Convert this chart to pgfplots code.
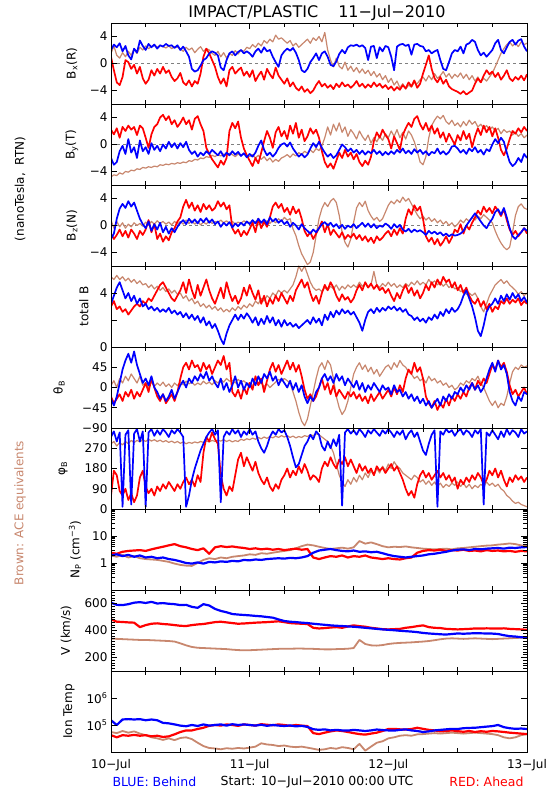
\documentclass[border=0pt]{standalone}
\usepackage{fontspec}
\setmainfont{DejaVu Sans}
\usepackage{pgfplots}
\usepackage{pgfplotstable}
\pgfplotsset{compat=1.18}
\definecolor{cb}{RGB}{0,0,255}
\definecolor{cr}{RGB}{255,0,0}
\definecolor{cn}{RGB}{200,135,110}
\newcommand{\fs}{\fontsize{12}{14}\selectfont}

\pgfplotstableread{
h b r a
0 2.0 1.0 1.5
0.5 2.8 -1.0 2.6
1 2.4 -2.8 1.2
1.5 3.0 -3.2 0.8
2 1.8 -2.0 1.6
2.5 2.6 0.5 1.0
3 1.2 0.2 1.8
3.5 0.6 -0.8 1.2
4 2.2 -0.2 2.2
4.5 1.6 -1.5 1.5
5 3.4 -0.5 2.4
5.5 2.6 -2.2 2.0
6 2.0 -3.0 2.6
6.5 2.9 -2.4 2.2
7 2.4 -1.0 2.5
7.5 2.8 -1.8 2.8
8 2.2 -0.8 2.4
8.5 2.7 -1.5 2.7
9 2.5 -0.5 2.5
9.5 2.9 -1.4 2.3
10 2.6 -1.0 2.6
10.5 2.7 -2.0 2.2
11 2.3 -2.6 2.5
11.5 2.7 -2.2 2.4
12 2.0 -1.4 2.2
12.5 2.5 -2.8 1.8
13 1.8 -3.2 2.4
13.5 1.0 -2.5 2.0
14 -0.8 -3.4 2.3
14.5 -1.2 -2.6 1.6
15 -1.0 -3.0 2.1
15.5 -0.3 -1.5 2.5
16 0.5 1.0 1.8
16.5 0.8 2.2 2.2
17 1.5 1.5 2.0
17.5 1.8 0.5 1.5
18 1.6 -0.5 1.2
18.5 1.2 -2.0 1.8
19 -0.6 -3.0 1.0
19.5 -1.0 -2.2 1.6
20 0.5 -3.4 0.8
20.5 1.5 -1.0 1.5
21 1.8 -0.5 1.2
21.5 1.2 -1.5 1.9
22 1.7 -1.0 1.4
22.5 2.0 -0.6 2.0
23 1.5 -1.8 1.8
23.5 1.8 -1.2 2.4
24 1.5 -2.0 2.2
24.5 1.0 -1.0 2.8
25 1.8 -2.6 2.4
25.5 2.2 -1.8 3.0
26 1.6 -1.2 2.6
26.5 2.4 -2.4 3.4
27 1.8 -0.8 3.0
27.5 2.0 -1.6 3.6
28 1.0 -2.2 3.2
28.5 0.2 -0.6 4.2
29 -0.5 -1.8 3.6
29.5 1.2 -2.4 3.8
30 1.8 -3.0 3.4
30.5 2.2 -2.2 3.0
31 1.9 -3.4 3.4
31.5 2.3 -2.8 2.6
32 1.6 -3.6 3.0
32.5 0.5 -4.0 2.4
33 -1.0 -3.4 2.8
33.5 -1.3 -4.2 3.2
34 -0.8 -3.8 3.6
34.5 0.2 -4.4 3.0
35 0.8 -4.0 3.8
35.5 1.5 -3.2 3.4
36 0.5 -2.6 4.0
36.5 1.5 -3.4 3.2
37 1.8 -3.0 4.6
37.5 1.0 -3.6 2.0
38 -0.2 -3.2 0.5
38.5 -0.4 -3.8 -0.5
39 0.3 -3.0 0.8
39.5 1.4 -3.5 -0.4
40 2.0 -2.8 -0.8
40.5 1.5 -3.4 0.2
41 2.4 -3.1 -1.0
41.5 2.7 -3.6 -0.4
42 2.6 -3.2 -1.2
42.5 2.8 -2.6 -0.6
43 2.5 -3.4 -1.4
43.5 2.7 -3.0 -0.8
44 2.3 -3.6 -1.5
44.5 0.5 -3.1 -1.0
45 2.5 -3.5 -1.8
45.5 2.6 -2.8 -1.2
46 0.8 -3.4 -2.0
46.5 2.4 -3.0 -1.5
47 1.8 -3.6 -2.4
47.5 2.6 -3.2 -1.8
48 2.4 -3.8 -2.8
48.5 1.0 -3.4 -2.2
49 -1.0 -4.0 -3.2
49.5 2.5 -3.5 -2.6
50 2.8 -3.9 -3.6
50.5 2.9 -3.2 -3.0
51 2.6 -3.7 -3.8
51.5 2.8 -2.8 -3.2
52 1.3 -3.4 -3.5
52.5 2.8 -2.5 -2.8
53 2.9 -3.6 -3.0
53.5 2.6 -3.0 -2.4
54 2.5 -1.5 -2.0
54.5 1.8 -0.2 -2.6
55 2.0 1.2 -1.8
55.5 1.5 -0.8 -2.4
56 1.8 -2.2 -1.5
56.5 2.0 -2.8 -2.2
57 0.5 -2.0 -1.8
57.5 -0.8 -3.0 -1.2
58 -1.0 -2.4 -2.0
58.5 0.2 -3.4 -1.5
59 1.5 -3.8 -2.2
59.5 2.0 -4.0 -1.6
60 1.8 -4.2 -2.0
60.5 2.5 -4.5 -1.4
61 1.5 -4.1 -2.2
61.5 2.8 -4.6 -1.6
62 3.0 -4.3 -2.4
62.5 3.5 -4.0 -1.8
63 3.2 -3.0 -2.6
63.5 2.0 -2.2 -2.0
64 1.2 -2.8 -2.8
64.5 1.6 -1.8 -2.2
65 1.0 -1.0 -2.6
65.5 1.5 -1.6 -2.0
66 2.0 -1.2 -1.4
66.5 3.0 -2.0 -0.5
67 3.5 -1.4 0.5
67.5 2.0 -2.4 1.5
68 1.5 -1.8 2.2
68.5 2.4 -1.0 2.8
69 3.2 -2.2 3.2
69.5 3.5 -2.6 2.6
70 2.8 -2.0 3.0
70.5 3.4 -2.4 2.5
71 3.6 -1.8 3.2
71.5 2.5 -2.5 2.8
72 1.8 -1.6 3.0
}\tBx

\pgfplotstableread{
h b r a
0 -2.0 2.2 -4.8
0.5 -3.0 1.5 -4.5
1 -2.6 2.4 -4.6
1.5 -1.0 1.0 -4.2
2 -0.2 2.6 -4.4
2.5 -1.4 2.0 -4.0
3 0.8 2.8 -4.1
3.5 -1.2 2.2 -3.8
4 -0.4 2.6 -3.9
4.5 -2.0 1.4 -3.6
5 0.6 2.8 -3.7
5.5 -1.0 2.4 -3.4
6 -0.4 1.0 -3.5
6.5 -1.4 -0.5 -3.3
7 0.2 1.5 -3.4
7.5 -0.8 2.6 -3.2
8 -0.2 3.0 -3.3
8.5 -1.0 4.0 -3.0
9 0.0 4.4 -3.1
9.5 -0.6 3.6 -2.9
10 0.4 4.2 -3.0
10.5 -0.4 3.0 -2.8
11 0.2 3.6 -2.9
11.5 -0.6 2.6 -2.7
12 0.2 3.2 -2.8
12.5 -0.4 4.0 -2.6
13 0.4 3.0 -2.7
13.5 -0.8 3.6 -2.4
14 -1.4 2.2 -2.5
14.5 -1.0 3.8 -2.2
15 -1.8 4.2 -2.3
15.5 -1.2 3.0 -2.0
16 -1.6 2.0 -2.1
16.5 -1.0 -0.5 -1.8
17 -1.4 -1.4 -1.9
17.5 -0.8 -2.2 -1.6
18 -1.2 -2.8 -1.8
18.5 -1.6 -3.4 -1.5
19 -1.0 -2.4 -1.7
19.5 -1.8 -3.0 -1.4
20 -1.2 -2.0 -1.6
20.5 -1.6 2.0 -1.3
21 -1.0 3.2 -1.5
21.5 -1.5 2.4 -1.8
22 -1.1 3.4 -1.4
22.5 -1.7 1.0 -1.7
23 -1.3 -0.6 -1.3
23.5 -1.9 -1.6 -1.6
24 -1.4 -2.4 -1.8
24.5 -1.8 -3.2 -1.5
25 -1.2 -2.0 -2.0
25.5 -0.2 -2.8 -1.6
26 0.6 -1.2 -2.2
26.5 -0.8 0.5 -1.8
27 -1.6 2.0 -2.4
27.5 -1.2 1.0 -2.0
28 -1.8 -0.5 -2.6
28.5 -1.3 1.8 -2.2
29 -0.5 2.6 -2.5
29.5 0.0 1.2 -2.0
30 0.2 2.0 -1.8
30.5 -0.3 0.8 -1.5
31 0.3 2.8 -1.9
31.5 -0.6 1.6 -1.4
32 -1.2 3.2 -1.7
32.5 -1.8 1.0 -1.2
33 -1.4 2.2 -1.5
33.5 -1.9 0.5 -1.0
34 -1.5 1.2 -1.3
34.5 -0.6 2.4 -0.8
35 0.2 1.6 -1.2
35.5 -0.4 2.2 -0.6
36 0.4 1.0 -0.9
36.5 -0.5 -1.0 -0.2
37 -1.2 -2.6 1.0
37.5 -1.8 -3.4 2.6
38 -1.4 -2.8 1.4
38.5 -2.0 -3.6 3.0
39 -1.6 -2.4 2.0
39.5 -0.8 -1.2 3.2
40 0.0 -2.0 1.8
40.5 -0.4 -0.8 2.6
41 -1.0 -1.8 1.2
41.5 -0.6 -1.2 2.2
42 -1.2 -2.2 1.6
42.5 -0.8 -1.4 0.8
43 -1.4 -2.6 2.0
43.5 -0.9 -3.2 1.2
44 -1.5 -2.4 0.6
44.5 -1.0 -3.0 1.4
45 -1.3 -1.8 0.2
45.5 -0.8 0.5 1.0
46 -1.4 1.8 0.4
46.5 -1.0 1.0 1.2
47 -1.6 2.2 0.6
47.5 -1.1 1.4 1.6
48 -1.5 0.8 1.0
48.5 -1.0 -0.6 2.0
49 -1.4 1.2 1.2
49.5 -0.8 0.2 2.2
50 -1.2 -0.8 1.0
50.5 -0.6 1.4 1.8
51 -1.3 2.4 0.8
51.5 -0.9 3.2 2.0
52 -1.4 2.6 1.4
52.5 -0.7 3.8 0.4
53 -1.2 4.2 -1.0
53.5 -0.8 3.0 -2.6
54 -1.4 2.2 -3.0
54.5 -1.0 3.2 -1.8
55 -1.6 2.0 1.0
55.5 -1.1 2.8 2.8
56 -1.3 1.6 3.6
56.5 -0.6 2.4 4.2
57 -1.4 1.0 3.8
57.5 -1.0 1.8 4.3
58 -1.5 0.4 3.4
58.5 -1.1 1.6 3.0
59 -0.3 0.8 3.6
59.5 -0.2 0.0 2.8
60 -0.6 1.4 3.2
60.5 -1.2 0.6 2.6
61 -0.8 2.0 3.4
61.5 -1.4 0.8 2.8
62 -0.6 1.6 3.6
62.5 -1.0 -0.4 3.0
63 -0.4 1.2 3.4
63.5 -1.2 2.4 2.6
64 -0.8 1.4 3.0
64.5 -1.5 2.8 2.4
65 -0.7 1.8 2.8
65.5 -1.0 2.6 2.2
66 0.0 1.2 2.6
66.5 0.8 2.4 2.0
67 0.2 1.0 2.4
67.5 1.0 -0.8 1.6
68 0.4 -1.6 2.2
68.5 -1.2 -0.6 1.8
69 -2.6 0.8 2.0
69.5 -3.2 2.0 1.4
70 -2.8 1.6 1.8
70.5 -2.0 2.4 1.2
71 -2.6 1.8 1.6
71.5 -1.4 2.6 1.0
72 -2.0 2.0 1.4
}\tBy

\pgfplotstableread{
h b r a
0 -2.0 -1.2 0.8
0.5 -1.2 -2.0 -0.4
1 1.0 -1.4 0.6
1.5 2.5 -0.6 -0.2
2 3.2 -1.6 0.4
2.5 2.6 -0.8 -0.4
3 3.6 -1.8 0.2
3.5 2.8 -0.6 -0.2
4 3.4 -1.2 0.4
4.5 2.2 -2.0 0.0
5 1.0 -0.8 0.3
5.5 0.2 -1.4 -0.1
6 -0.4 -0.6 0.5
6.5 0.6 0.8 0.1
7 -0.8 -1.0 0.6
7.5 0.2 0.2 0.2
8 -0.6 -2.0 0.7
8.5 0.4 -1.2 0.3
9 -1.0 -2.4 0.6
9.5 -0.2 -1.6 0.2
10 -1.2 -2.2 0.5
10.5 -0.4 -1.0 0.1
11 -1.0 -0.4 0.6
11.5 -0.2 0.6 0.2
12 0.4 1.2 0.6
12.5 0.8 2.8 0.2
13 0.2 3.8 0.8
13.5 1.0 2.6 0.3
14 0.4 3.4 0.7
14.5 0.9 2.2 0.2
15 0.3 3.0 0.6
15.5 1.0 2.0 0.1
16 0.5 3.2 0.5
16.5 1.1 2.4 0.2
17 0.4 3.0 0.7
17.5 0.9 2.2 0.3
18 0.2 2.6 0.6
18.5 0.6 3.6 0.4
19 -0.2 2.8 0.8
19.5 0.4 3.4 0.4
20 0.0 2.4 0.7
20.5 0.5 3.0 0.3
21 -0.3 -0.4 0.6
21.5 0.3 -1.2 0.2
22 -0.1 -0.6 0.5
22.5 0.4 -1.6 0.3
23 0.0 -0.8 0.7
23.5 0.6 -1.4 0.4
24 0.2 -0.5 0.5
24.5 0.8 0.4 0.2
25 0.3 -1.0 0.6
25.5 1.0 1.0 0.1
26 0.4 -0.4 0.5
26.5 0.9 0.6 0.2
27 0.2 -0.2 0.7
27.5 1.2 1.2 0.3
28 0.6 2.8 0.8
28.5 1.0 3.4 0.4
29 0.4 2.6 1.0
29.5 0.8 3.2 0.6
30 0.2 2.0 1.2
30.5 0.6 2.6 0.8
31 -0.2 1.6 1.0
31.5 0.4 2.8 -0.5
32 0.0 1.8 -1.5
32.5 -0.6 2.4 -3.0
33 0.2 1.0 -4.2
33.5 -0.4 -0.8 -5.0
34 -0.8 -1.6 -5.8
34.5 -1.2 -1.0 -5.4
35 -0.6 -2.0 -4.0
35.5 -1.0 -1.2 -1.5
36 -0.4 -0.4 1.0
36.5 0.2 0.6 2.5
37 0.5 -1.0 3.4
37.5 0.0 0.2 2.8
38 0.4 -1.4 3.6
38.5 -0.2 -0.6 4.0
39 0.2 -1.2 3.4
39.5 -0.4 -1.8 1.5
40 0.1 -1.0 -1.0
40.5 -0.5 -2.0 -2.5
41 0.0 -1.4 -3.2
41.5 -0.3 -1.8 -2.0
42 0.2 -1.2 0.5
42.5 -0.4 -2.0 2.6
43 0.0 -1.4 3.4
43.5 0.4 -2.2 2.8
44 -0.2 -1.6 3.6
44.5 0.3 -2.4 2.2
45 -0.3 -1.8 1.4
45.5 0.2 -2.6 0.8
46 -0.4 -1.6 1.2
46.5 0.0 -2.2 0.6
47 -0.2 -1.8 1.0
47.5 0.3 -1.2 2.0
48 0.0 -0.8 3.0
48.5 -0.5 -1.6 3.6
49 0.2 -0.6 3.2
49.5 -0.3 -1.4 3.8
50 0.1 -0.4 3.4
50.5 -0.6 -1.2 4.2
51 -0.9 1.0 3.6
51.5 -0.5 2.4 4.0
52 -1.0 1.6 3.2
52.5 -0.6 3.0 2.4
53 -0.9 2.2 1.6
53.5 -0.7 2.8 1.0
54 -1.0 1.0 1.4
54.5 -1.4 -1.6 0.8
55 -0.8 -2.4 1.2
55.5 -1.2 -1.8 0.6
56 -0.9 -2.8 1.0
56.5 -1.3 -2.0 0.4
57 -1.0 -3.0 0.8
57.5 -1.5 -2.4 0.2
58 -1.2 -1.6 0.6
58.5 -1.6 -2.6 0.0
59 -1.3 -1.8 0.4
59.5 -1.5 -0.6 -0.2
60 -1.4 -1.0 0.2
60.5 -1.2 0.2 0.8
61 -0.8 -1.2 0.4
61.5 0.0 0.0 1.0
62 0.6 -0.6 0.6
62.5 1.2 0.4 1.2
63 1.8 1.2 0.8
63.5 1.2 2.2 1.4
64 0.6 1.6 1.0
64.5 0.0 2.8 1.6
65 -0.4 2.0 1.2
65.5 0.4 2.6 0.8
66 1.0 1.8 0.4
66.5 2.0 2.8 -0.8
67 2.4 2.2 -1.8
67.5 1.6 1.4 -2.6
68 2.6 2.4 -3.2
68.5 1.2 0.8 -3.6
69 -0.4 -0.6 -3.2
69.5 -1.6 -1.4 -1.0
70 -2.0 -0.8 1.5
70.5 -1.4 -1.6 2.8
71 -1.0 -1.0 3.2
71.5 -0.4 -0.4 2.6
72 -0.8 -1.2 2.4
}\tBz

\pgfplotstableread{
h b r a
0 3.2 3.0 5.2
0.5 3.8 3.4 5.0
1 4.4 2.8 5.3
1.5 4.8 3.0 5.0
2 4.2 2.6 5.2
2.5 3.6 2.8 4.9
3 4.0 2.4 5.1
3.5 3.4 2.7 4.8
4 3.8 3.0 5.0
4.5 3.2 3.2 4.7
5 3.6 3.0 4.9
5.5 3.0 3.4 4.6
6 3.2 3.2 4.7
6.5 2.8 3.6 4.4
7 3.0 3.4 4.6
7.5 2.7 3.8 4.3
8 2.9 4.2 4.5
8.5 2.6 4.6 4.2
9 2.8 4.8 4.4
9.5 2.6 4.4 4.1
10 2.9 4.0 4.3
10.5 2.5 3.6 4.0
11 2.7 3.4 4.2
11.5 2.4 3.8 3.9
12 2.6 4.2 4.0
12.5 2.2 4.8 3.6
13 2.5 4.0 3.8
13.5 2.1 5.0 3.4
14 2.4 4.2 3.6
14.5 2.0 3.6 3.2
15 2.3 4.6 3.4
15.5 1.8 3.8 3.0
16 2.2 4.4 3.2
16.5 1.6 5.0 2.9
17 1.9 4.2 3.1
17.5 1.4 3.6 2.8
18 1.7 3.2 3.0
18.5 1.2 3.8 2.7
19 0.6 4.4 2.9
19.5 0.2 3.6 2.6
20 1.0 4.8 2.8
20.5 1.6 4.0 2.6
21 2.0 3.4 2.9
21.5 2.4 3.8 2.7
22 2.0 3.2 3.0
22.5 2.4 3.6 2.8
23 2.1 4.4 3.1
23.5 2.5 3.8 2.9
24 2.2 4.6 3.2
24.5 1.8 4.0 3.0
25 2.2 3.5 3.4
25.5 1.6 4.2 3.2
26 2.1 3.2 3.6
26.5 1.7 3.8 3.4
27 2.3 3.0 3.8
27.5 1.8 3.6 3.6
28 2.2 3.2 4.0
28.5 1.6 3.8 3.8
29 2.0 3.4 4.2
29.5 1.5 4.0 4.0
30 2.0 3.6 4.2
30.5 1.6 3.2 4.0
31 1.8 3.8 4.3
31.5 1.5 3.4 4.6
32 1.7 4.2 5.2
32.5 1.4 4.6 6.0
33 1.6 5.0 5.6
33.5 1.8 4.4 6.0
34 2.0 4.8 5.4
34.5 1.7 4.0 4.8
35 2.2 3.4 4.4
35.5 1.8 3.8 4.2
36 2.1 3.2 4.3
36.5 1.6 4.0 4.1
37 2.4 4.6 4.4
37.5 2.0 4.2 4.2
38 2.6 4.8 4.5
38.5 2.2 4.4 4.3
39 2.7 3.8 4.6
39.5 2.4 3.4 4.2
40 2.8 3.9 4.5
40.5 2.5 3.5 4.3
41 2.7 3.7 4.6
41.5 2.4 3.3 4.4
42 2.6 3.6 4.6
42.5 2.2 4.2 4.4
43 1.8 4.6 4.8
43.5 1.2 4.2 4.5
44 2.0 4.8 4.7
44.5 2.6 4.4 4.4
45 2.8 4.7 4.6
45.5 2.5 4.3 5.6
46 2.9 4.6 4.6
46.5 2.6 4.2 4.4
47 2.9 4.4 4.7
47.5 2.7 4.0 4.5
48 3.0 4.3 4.8
48.5 2.8 3.8 4.5
49 3.0 3.4 4.7
49.5 2.7 4.0 4.4
50 2.9 3.6 4.6
50.5 2.6 4.2 4.4
51 2.8 4.6 4.7
51.5 2.4 4.0 4.5
52 2.3 4.4 4.8
52.5 2.0 3.8 4.6
53 2.2 4.2 4.9
53.5 1.9 3.6 4.6
54 2.1 4.0 4.8
54.5 1.8 4.6 4.6
55 2.2 4.2 5.0
55.5 2.0 4.8 4.7
56 2.4 4.4 4.9
56.5 2.1 5.0 4.6
57 2.6 4.6 4.8
57.5 2.3 5.2 4.5
58 2.8 4.8 4.7
58.5 2.5 5.0 4.4
59 2.9 4.4 4.6
59.5 2.6 4.8 4.3
60 2.8 4.2 4.4
60.5 3.2 4.6 4.1
61 3.8 4.0 4.2
61.5 4.2 4.4 3.9
62 3.6 3.8 4.0
62.5 3.0 3.4 3.8
63 2.2 3.2 4.0
63.5 1.2 3.6 3.6
64 0.8 3.0 3.0
64.5 1.6 3.4 2.6
65 2.6 2.8 3.2
65.5 3.0 3.2 3.8
66 3.2 2.6 4.2
66.5 3.6 3.0 4.6
67 3.2 2.8 4.8
67.5 3.8 3.4 5.0
68 3.4 3.2 4.7
68.5 3.9 3.6 4.9
69 3.5 3.2 4.6
69.5 4.0 3.5 4.4
70 3.6 3.3 4.2
70.5 3.9 3.6 3.9
71 3.4 3.1 4.1
71.5 3.7 3.4 3.8
72 3.3 3.2 4.0
}\tB

\pgfplotstableread{
h b r a
0 -25 -20 5
0.5 -40 -35 15
1 -20 -25 0
1.5 10 -15 20
2 40 -30 10
2.5 60 -10 25
3 75 -20 15
3.5 55 -5 30
4 80 -25 20
4.5 50 -10 10
5 30 -20 25
5.5 10 -5 5
6 20 10 10
6.5 5 -10 0
7 25 20 12
7.5 0 0 2
8 -10 -20 10
8.5 -25 -30 4
9 -15 -15 12
9.5 -30 -35 2
10 -20 -25 8
10.5 -5 -15 0
11 -25 -30 10
11.5 -10 -10 4
12 5 20 12
12.5 15 45 6
13 0 55 14
13.5 20 40 8
14 10 60 12
14.5 25 45 5
15 15 50 10
15.5 30 35 6
16 20 55 14
16.5 35 40 8
17 15 50 12
17.5 25 30 6
18 10 45 15
18.5 0 60 10
19 20 50 18
19.5 -5 70 12
20 10 40 20
20.5 -10 55 14
21 5 -10 16
21.5 25 -20 10
22 0 -5 18
22.5 15 -25 12
23 -5 0 15
23.5 10 -15 8
24 0 10 10
24.5 20 -5 4
25 5 25 12
25.5 25 5 6
26 10 20 10
26.5 30 -10 2
27 20 15 8
27.5 35 40 0
28 15 55 6
28.5 25 35 12
29 5 50 18
29.5 20 30 14
30 10 45 20
30.5 0 60 15
31 15 40 10
31.5 -5 55 -10
32 10 35 -30
32.5 -10 50 -55
33 5 25 -75
33.5 -20 -5 -85
34 -35 -25 -70
34.5 -20 -15 -40
35 -30 -30 -10
35.5 -10 -20 20
36 0 0 45
36.5 20 20 55
37 30 -5 40
37.5 15 10 60
38 25 -15 50
38.5 10 5 20
39 30 -20 -20
39.5 15 -5 -45
40 25 -15 -60
40.5 5 -25 -50
41 20 -10 -30
41.5 10 -20 0
42 0 -10 30
42.5 15 -25 45
43 -5 -15 55
43.5 10 -30 40
44 -10 -20 50
44.5 5 -35 35
45 -5 -15 45
45.5 10 -30 30
46 0 -20 40
46.5 -10 -10 25
47 5 -25 35
47.5 -5 -15 45
48 0 -5 50
48.5 -15 -20 40
49 5 0 55
49.5 -10 -15 45
50 -5 5 60
50.5 -20 -10 50
51 -10 20 45
51.5 -25 40 35
52 -15 30 30
52.5 -30 55 20
53 -20 35 25
53.5 -35 45 15
54 -25 20 20
54.5 -40 -20 10
55 -30 -35 25
55.5 -45 -45 15
56 -35 -30 20
56.5 -25 -50 10
57 -40 -35 15
57.5 -20 -45 5
58 -30 -25 10
58.5 -15 -40 0
59 -25 -20 5
59.5 -10 -30 -5
60 -15 -15 0
60.5 0 -25 10
61 -10 -10 5
61.5 5 -20 15
62 -5 0 10
62.5 10 10 20
63 -5 -5 15
63.5 5 15 25
64 -10 5 10
64.5 0 20 0
65 20 10 -15
65.5 40 30 -30
66 55 50 -40
66.5 35 40 -30
67 60 60 -45
67.5 40 45 -35
68 50 55 -40
68.5 30 35 -20
69 -10 5 10
69.5 -30 -15 35
70 -40 -5 45
70.5 -20 -20 40
71 -30 -10 50
71.5 -10 0 45
72 -15 -15 48
}\tTh

\pgfplotstableread{
h b r a
0 320 60 290
0.5 345 170 300
1 300 150 280
1.5 340 80 295
2 10 60 285
2.5 330 90 300
3 350 40 290
3.5 20 70 305
4 335 30 295
4.5 355 60 305
5 300 140 298
5.5 345 170 308
6 10 100 300
6.5 340 70 310
7 355 90 302
7.5 325 60 308
8 350 100 300
8.5 330 80 306
9 355 110 298
9.5 340 90 304
10 320 120 296
10.5 350 100 302
11 335 80 294
11.5 355 110 300
12 340 90 292
12.5 320 120 298
13 10 140 290
13.5 60 110 296
14 130 130 292
14.5 180 100 298
15 220 150 294
15.5 260 120 300
16 290 250 296
16.5 320 320 302
17 340 300 298
17.5 355 340 305
18 330 310 300
18.5 350 290 306
19 30 150 302
19.5 320 90 308
20 345 60 300
20.5 330 100 306
21 355 80 298
21.5 335 150 304
22 350 220 300
22.5 320 250 310
23 345 190 305
23.5 330 230 312
24 355 200 308
24.5 330 170 315
25 345 210 310
25.5 300 160 318
26 270 130 312
26.5 250 110 320
27 280 140 314
27.5 320 100 322
28 345 80 316
28.5 330 110 324
29 355 90 318
29.5 340 130 326
30 350 150 320
30.5 320 180 326
31 280 140 318
31.5 230 170 324
32 185 150 316
32.5 200 190 322
33 240 160 318
33.5 280 200 326
34 300 170 322
34.5 330 130 330
35 310 150 326
35.5 345 140 334
36 330 120 330
36.5 280 180 320
37 260 210 310
37.5 300 190 300
38 270 230 280
38.5 310 200 250
39 280 180 200
39.5 330 220 150
40 15 200 120
40.5 340 230 100
41 355 190 130
41.5 335 220 110
42 350 190 140
42.5 330 160 120
43 355 200 150
43.5 340 170 130
44 320 190 160
44.5 350 160 140
45 335 180 170
45.5 355 150 150
46 340 190 180
46.5 325 170 160
47 350 185 190
47.5 335 160 170
48 355 180 200
48.5 340 200 180
49 320 170 210
49.5 345 190 190
50 330 160 180
50.5 350 130 160
51 310 90 150
51.5 335 60 140
52 350 80 130
52.5 320 50 150
53 340 110 140
53.5 300 150 120
54 260 170 130
54.5 240 140 110
55 290 160 125
55.5 330 130 105
56 350 150 120
56.5 10 170 100
57 345 140 115
57.5 330 160 95
58 355 130 110
58.5 340 150 100
59 350 120 115
59.5 325 140 105
60 345 90 120
60.5 355 130 100
61 330 110 115
61.5 350 140 95
62 340 120 110
62.5 320 150 90
63 350 130 105
63.5 335 160 95
64 355 140 110
64.5 20 110 100
65 340 130 120
65.5 325 170 105
66 350 150 115
66.5 330 180 100
67 310 140 110
67.5 345 170 90
68 320 130 80
68.5 355 100 60
69 330 140 50
69.5 350 120 35
70 340 150 25
70.5 320 130 30
71 355 145 20
71.5 335 120 15
72 345 140 10
}\tPh

\pgfplotstableread{
h b r a
0 1.9 2.4 1.9
1 2.1 2.2 1.7
2 1.8 2.6 2.0
3 2.0 2.8 1.6
4 1.7 2.9 1.8
5 1.9 3.0 1.5
6 1.6 2.8 1.4
7 1.7 3.2 1.35
8 1.5 3.6 1.3
9 1.6 4.0 1.2
10 1.4 4.5 1.1
11 1.3 5.0 0.95
12 1.15 4.2 0.85
13 1.0 3.8 0.8
14 0.95 3.3 0.78
15 1.05 3.0 1.0
16 0.95 3.5 1.3
17 1.1 2.2 1.5
18 1.05 3.8 1.4
19 1.15 4.2 1.6
20 1.1 3.9 1.5
21 1.2 4.1 1.7
22 1.15 3.8 1.8
23 1.3 3.6 1.9
24 1.25 3.3 2.1
25 1.35 3.5 2.0
26 1.3 3.2 2.3
27 1.4 3.4 2.2
28 1.45 3.1 2.4
29 1.5 3.3 2.6
30 1.45 3.0 2.8
31 1.55 3.2 3.0
32 1.5 3.4 3.5
33 1.6 3.1 4.2
34 1.8 3.3 4.8
35 2.4 1.6 4.5
36 2.9 1.4 4.0
37 3.1 1.6 3.6
38 3.3 1.8 3.3
39 3.0 1.7 3.5
40 2.8 1.9 3.7
41 2.7 1.6 3.4
42 2.9 1.8 3.8
43 2.6 1.7 6.5
44 2.7 1.9 5.2
45 2.5 1.6 5.8
46 2.6 1.5 5.0
47 2.3 1.4 4.2
48 2.0 1.5 3.8
49 1.8 1.4 4.0
50 1.7 1.35 3.9
51 1.6 1.5 4.1
52 1.7 1.6 3.8
53 1.8 2.4 3.6
54 1.9 2.8 3.4
55 2.1 3.0 3.3
56 2.2 2.9 3.2
57 2.4 3.1 3.3
58 2.6 2.8 3.4
59 2.9 3.0 3.2
60 3.1 2.9 3.5
61 3.2 3.1 3.6
62 3.0 2.8 3.8
63 3.3 2.9 4.0
64 3.2 2.7 4.2
65 3.4 3.0 4.4
66 3.5 2.8 4.5
67 3.6 2.9 4.8
68 3.4 2.7 5.0
69 3.7 2.8 5.3
70 3.6 2.6 5.0
71 3.8 2.8 4.5
72 3.9 2.7 4.2
}\tN

\pgfplotstableread{
h b r a
0 606 483 340
1 590 465 338
2 588 463 336
3 595 460 334
4 606 458 332
5 610 425 330
6 604 440 330
7 612 450 328
8 600 453 326
9 603 448 324
10 598 445 322
11 595 440 318
12 588 435 305
13 590 433 290
14 575 440 278
15 568 445 272
16 595 448 270
17 585 455 268
18 560 462 266
19 545 465 264
20 535 460 262
21 522 455 258
22 518 450 255
23 515 452 253
24 512 455 254
25 508 458 256
26 505 460 258
27 500 462 260
28 495 465 262
29 482 468 264
30 470 462 265
31 465 455 265
32 462 452 266
33 458 450 266
34 455 448 265
35 450 420 264
36 446 415 262
37 442 418 260
38 438 422 260
39 435 425 262
40 433 420 263
41 430 430 265
42 428 438 270
43 424 432 330
44 420 428 300
45 416 420 290
46 412 415 288
47 408 410 292
48 405 408 300
49 402 410 305
50 398 412 308
51 395 420 310
52 392 425 312
53 388 432 315
54 382 438 318
55 378 425 322
56 375 420 328
57 372 418 335
58 370 412 340
59 374 410 342
60 378 408 340
61 376 410 338
62 378 412 340
63 380 415 342
64 379 414 340
65 378 416 338
66 377 415 336
67 374 414 338
68 365 416 340
69 358 412 342
70 355 410 345
71 350 408 346
72 347 405 347
}\tV

\pgfplotstableread{
h b r a
0 1.5e5 4.2e4 5.5e4
1 1.0e5 3.5e4 5.0e4
2 1.6e5 4.2e4 6.0e4
3 1.65e5 4.0e4 5.2e4
4 1.6e5 4.3e4 5.8e4
5 1.65e5 4.0e4 4.8e4
6 1.5e5 4.2e4 4.2e4
7 1.6e5 3.8e4 3.5e4
8 1.5e5 4.0e4 3.2e4
9 1.2e5 3.6e4 2.8e4
10 1.15e5 3.8e4 3.2e4
11 1.05e5 4.5e4 2.75e4
12 9.5e4 5.5e4 3.3e4
13 9.0e4 6.3e4 3.5e4
14 1.0e5 6.3e4 3.0e4
15 9.2e4 7.1e4 2.2e4
16 1.05e5 7.9e4 1.66e4
17 9.5e4 9.3e4 1.41e4
18 1.0e5 1.0e5 1.35e4
19 1.05e5 9.5e4 1.26e4
20 9.5e4 1.05e5 1.38e4
21 1.07e5 1.0e5 1.32e4
22 1.0e5 9.3e4 1.41e4
23 1.05e5 1.05e5 1.35e4
24 1.0e5 1.0e5 1.45e4
25 9.5e4 9.5e4 1.58e4
26 1.02e5 1.07e5 2.1e4
27 9.3e4 1.02e5 1.9e4
28 1.0e5 9.8e4 1.82e4
29 9.5e4 1.05e5 1.66e4
30 9.2e4 1.0e5 1.74e4
31 9.6e4 9.3e4 1.58e4
32 8.9e4 1.0e5 1.51e4
33 9.3e4 9.5e4 1.58e4
34 8.5e4 9.1e4 1.45e4
35 7.0e4 5.0e4 1.32e4
36 6.6e4 4.6e4 1.2e4
37 6.9e4 5.2e4 1.26e4
38 6.3e4 5.8e4 1.41e4
39 6.6e4 6.3e4 1.32e4
40 6.3e4 6.0e4 1.51e4
41 6.2e4 5.5e4 1.41e4
42 6.6e4 5.0e4 1.26e4
43 6.3e4 4.6e4 2.0e4
44 6.0e4 4.4e4 1.12e4
45 6.3e4 4.8e4 1.58e4
46 6.8e4 5.2e4 2.2e4
47 6.5e4 6.0e4 2.5e4
48 6.3e4 7.1e4 3.2e4
49 6.2e4 7.2e4 3.5e4
50 6.6e4 6.9e4 4.0e4
51 6.9e4 6.8e4 4.2e4
52 6.3e4 7.1e4 4.0e4
53 6.0e4 7.9e4 4.5e4
54 5.5e4 7.2e4 4.6e4
55 5.8e4 6.6e4 4.8e4
56 6.3e4 6.3e4 5.0e4
57 6.6e4 5.8e4 4.8e4
58 6.9e4 6.0e4 5.0e4
59 7.2e4 6.3e4 5.2e4
60 7.1e4 5.9e4 5.0e4
61 7.6e4 5.6e4 4.8e4
62 7.8e4 6.0e4 5.0e4
63 7.9e4 5.5e4 5.2e4
64 8.3e4 5.9e4 5.0e4
65 8.7e4 5.6e4 4.8e4
66 9.1e4 6.0e4 4.6e4
67 1.0e5 5.8e4 4.2e4
68 8.3e4 5.5e4 3.5e4
69 7.6e4 5.2e4 3.2e4
70 7.2e4 5.0e4 3.5e4
71 7.4e4 4.8e4 4.2e4
72 7.1e4 4.6e4 4.6e4
}\tT

\pgfplotsset{
 panel/.style={
  scale only axis, width=416pt, height=81pt,
  at={(111pt,#1)}, anchor=north west,
  xmin=0, xmax=72, xtick={0,24,48,72},
  minor xtick={6,12,18,30,36,42,54,60,66},
  xticklabels={},
  tick align=inside,
  major tick length=6pt, minor tick length=4pt,
  tick style={black, line width=0.7pt},
  axis line style={line width=0.9pt},
  tick label style={font=\fs},
  label style={font=\fs},
  axis on top,
 },
 ylx/.style={ylabel style={at={(axis description cs:#1,0.5)}, anchor=center}},
 bl/.style={cb, line width=1.7pt, line join=round},
 rl/.style={cr, line width=1.7pt, line join=round},
 nl/.style={cn, line width=1.2pt, line join=round},
 bL/.style={cb, line width=2.2pt, line join=round},
 rL/.style={cr, line width=2.2pt, line join=round},
 nL/.style={cn, line width=1.8pt, line join=round},
}

\begin{document}
\begin{tikzpicture}
\path[use as bounding box] (0,0) rectangle (550pt,800pt);

\node[font=\fontsize{16}{18}\selectfont] at (317pt,787pt) {IMPACT/PLASTIC\hspace{20pt}11−Jul−2010};

\begin{axis}[panel=777pt, ymin=-6, ymax=6, ytick={-4,0,4}, yticklabels={−4,0,4},
  ylabel={B\textsubscript{x}(R)}, ylx=-0.094]
\addplot[gray, dashed, line width=0.6pt] coordinates {(0,0) (72,0)};
\addplot[nl] table[x=h,y=a]{\tBx};
\addplot[rl] table[x=h,y=r]{\tBx};
\addplot[bl] table[x=h,y=b]{\tBx};
\end{axis}

\begin{axis}[panel=696pt, ymin=-6, ymax=6, ytick={-4,0,4}, yticklabels={−4,0,4},
  ylabel={B\textsubscript{y}(T)}, ylx=-0.094]
\addplot[gray, dashed, line width=0.6pt] coordinates {(0,0) (72,0)};
\addplot[nl] table[x=h,y=a]{\tBy};
\addplot[rl] table[x=h,y=r]{\tBy};
\addplot[bl] table[x=h,y=b]{\tBy};
\end{axis}

\begin{axis}[panel=615pt, ymin=-6, ymax=6, ytick={-4,0,4}, yticklabels={−4,0,4},
  ylabel={B\textsubscript{z}(N)}, ylx=-0.094]
\addplot[gray, dashed, line width=0.6pt] coordinates {(0,0) (72,0)};
\addplot[nl] table[x=h,y=a]{\tBz};
\addplot[rl] table[x=h,y=r]{\tBz};
\addplot[bl] table[x=h,y=b]{\tBz};
\end{axis}

\begin{axis}[panel=534pt, ymin=0, ymax=6, ytick={0,2,4}, yticklabels={0,,4},
  ylabel={total B}, ylx=-0.065]
\addplot[nl] table[x=h,y=a]{\tB};
\addplot[rl] table[x=h,y=r]{\tB};
\addplot[bl] table[x=h,y=b]{\tB};
\end{axis}

\begin{axis}[panel=453pt, ymin=-90, ymax=90, ytick={-90,-45,0,45}, yticklabels={−90,−45,0,45},
  ylabel={θ\textsubscript{B}}, ylx=-0.125]
\addplot[nl] table[x=h,y=a]{\tTh};
\addplot[rl] table[x=h,y=r]{\tTh};
\addplot[bl] table[x=h,y=b]{\tTh};
\end{axis}

\begin{axis}[panel=372pt, ymin=0, ymax=360, ytick={0,90,180,270}, yticklabels={0,90,180,270},
  ylabel={φ\textsubscript{B}}, ylx=-0.115]
\addplot[nl] table[x=h,y=a]{\tPh};
\addplot[rl] table[x=h,y=r]{\tPh};
\addplot[bl] table[x=h,y=b]{\tPh};
\end{axis}

\begin{axis}[panel=291pt, ymode=log, ymin=0.1, ymax=100, ytick={1,10}, yticklabels={1,10},
  minor ytick={0.2,0.3,0.4,0.5,0.6,0.7,0.8,0.9,2,3,4,5,6,7,8,9,20,30,40,50,60,70,80,90},
  ylabel={N\textsubscript{P} (cm\textsuperscript{−3})}, ylx=-0.0865]
\addplot[nL] table[x=h,y=a]{\tN};
\addplot[rL] table[x=h,y=r]{\tN};
\addplot[bL] table[x=h,y=b]{\tN};
\end{axis}

\begin{axis}[panel=210pt, ymin=100, ymax=700, ytick={200,400,600}, yticklabels={200,400,600},
  minor ytick={100,120,...,700},
  ylabel={V (km/s)}, ylx=-0.108]
\addplot[nL] table[x=h,y=a]{\tV};
\addplot[rL] table[x=h,y=r]{\tV};
\addplot[bL] table[x=h,y=b]{\tV};
\end{axis}

\begin{axis}[panel=129pt, ymode=log, ymin=1e4, ymax=1e7, ytick={1e5,1e6},
  yticklabels={10\textsuperscript{5},10\textsuperscript{6}},
  minor y tick style={draw=none},
  xticklabels={10−Jul,11−Jul,12−Jul,13−Jul},
  xticklabel style={yshift=-4pt},
  ylabel={Ion Temp}, ylx=-0.101]
\addplot[nL] table[x=h,y=a]{\tT};
\addplot[rL] table[x=h,y=r]{\tT};
\addplot[bL] table[x=h,y=b]{\tT};
\end{axis}

\node[font=\fs, rotate=90] at (20pt,611pt) {(nanoTesla,\ \ RTN)};
\node[font=\fs, rotate=90, text=cn] at (20pt,287pt) {Brown: ACE equivalents};

\node[font=\fontsize{12.5}{14}\selectfont, text=cb, anchor=west] at (109pt,18pt) {BLUE: Behind};
\node[font=\fontsize{12.5}{14}\selectfont] at (317pt,18pt) {Start: 10−Jul−2010 00:00 UTC};
\node[font=\fontsize{12.5}{14}\selectfont, text=cr, anchor=east] at (527pt,18pt) {RED: Ahead};
\end{tikzpicture}
\end{document}
